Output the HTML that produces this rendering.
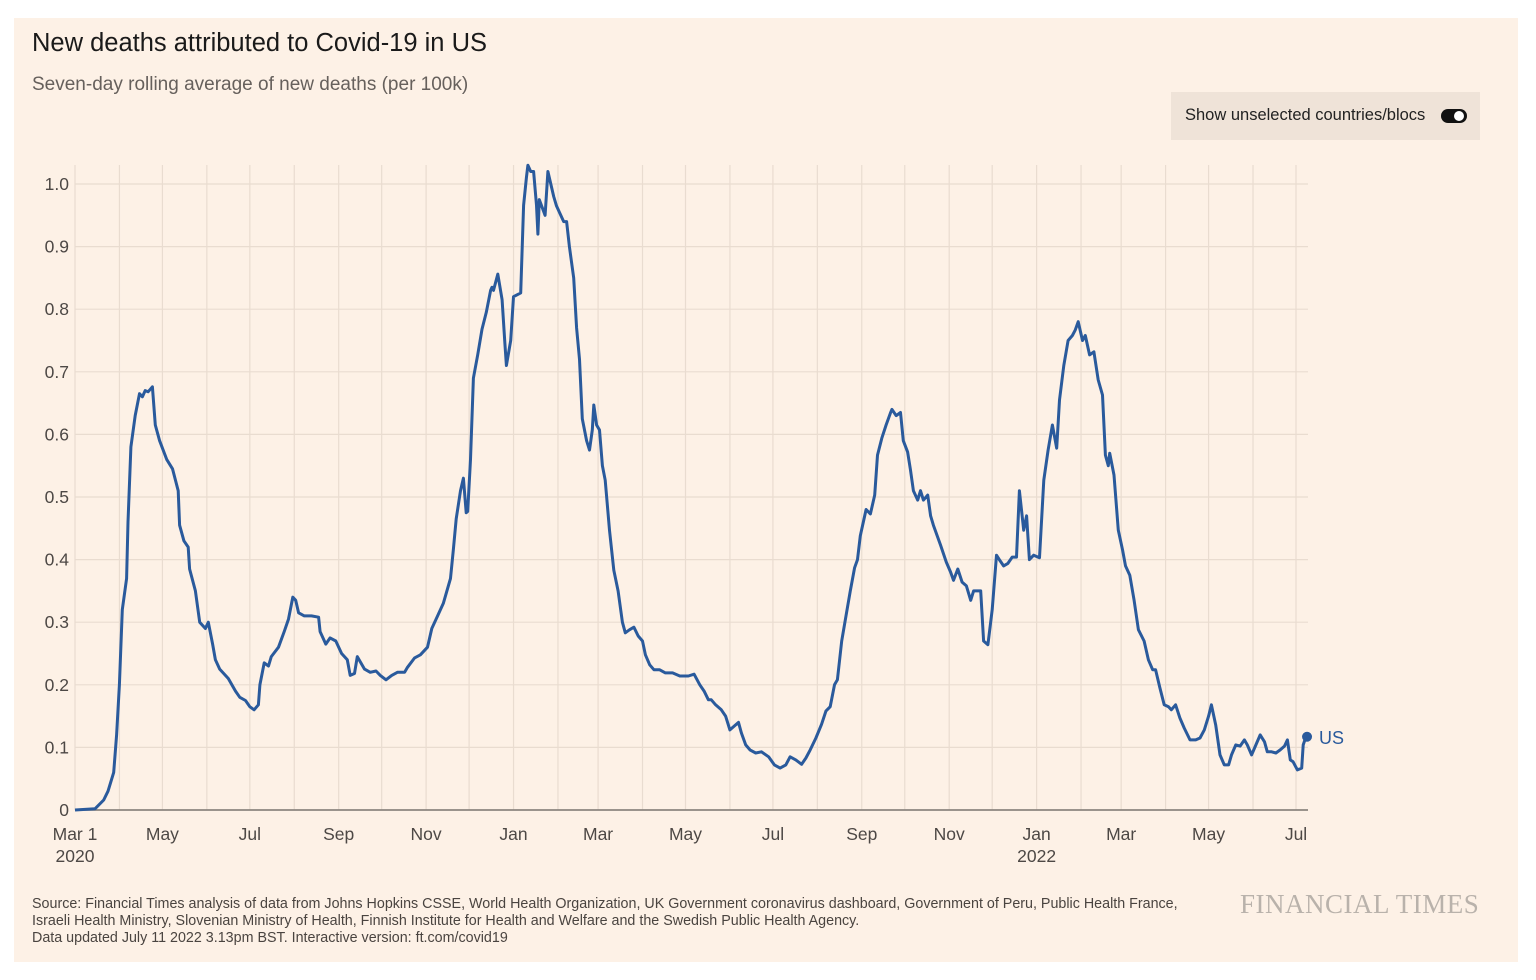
<!DOCTYPE html>
<html><head><meta charset="utf-8">
<style>
html,body{margin:0;padding:0;background:#fff;}
body{width:1536px;height:980px;position:relative;overflow:hidden;font-family:"Liberation Sans",sans-serif;}
#panel{position:absolute;left:14px;top:18px;width:1504px;height:944px;background:#fdf1e6;}
.t{position:absolute;white-space:nowrap;}
</style></head>
<body>
<div id="panel"></div>
<div class="t" style="left:32px;top:29px;font-size:25.5px;color:#1a1a1a;">New deaths attributed to Covid-19 in US</div>
<div class="t" style="left:32px;top:74px;font-size:19px;color:#66605c;">Seven-day rolling average of new deaths (per 100k)</div>
<div style="position:absolute;left:1171px;top:92px;width:309px;height:48px;background:#efe3d8;">
  <div class="t" style="left:14px;top:14px;font-size:16.5px;color:#222;">Show unselected countries/blocs</div>
  <div style="position:absolute;left:270px;top:17px;width:26px;height:14px;border-radius:8px;background:#111;">
    <div style="position:absolute;left:13px;top:2px;width:10px;height:10px;border-radius:5px;background:#fff;"></div>
  </div>
</div>
<svg id="chart" width="1536" height="980" style="position:absolute;left:0;top:0;"></svg>
<div class="t" style="left:32px;top:896px;font-size:14.3px;line-height:17px;color:#4a4440;">Source: Financial Times analysis of data from Johns Hopkins CSSE, World Health Organization, UK Government coronavirus dashboard, Government of Peru, Public Health France,<br>Israeli Health Ministry, Slovenian Ministry of Health, Finnish Institute for Health and Welfare and the Swedish Public Health Agency.<br>Data updated July 11 2022 3.13pm BST. Interactive version: ft.com/covid19</div>
<div class="t" style="left:1240px;top:889px;font-family:'Liberation Serif',serif;font-size:27px;color:#b9b2ab;letter-spacing:0.5px;">FINANCIAL TIMES</div>
<script>
const days=[0,14,20,23,27,29,31,33,36,37,39,42,45,47,49,51,54,56,59,64,68,72,73,76,79,80,84,87,91,93,96,98,101,107,112,115,119,122,125,128,129,132,135,137,142,146,149,152,154,156,160,165,170,171,175,178,182,186,190,192,195,197,202,206,210,213,217,221,225,230,232,237,241,246,249,253,257,262,264,266,269,271,273,274,276,278,281,284,287,290,291,292,295,298,300,301,304,306,311,313,315,316,318,320,322,323,324,328,330,332,334,336,338,341,343,345,348,350,352,354,357,359,361,362,364,366,368,370,373,376,379,382,384,387,390,393,396,398,401,404,408,412,417,422,428,432,436,439,442,444,447,451,454,457,460,463,465,468,471,475,479,484,488,492,496,499,503,507,510,513,517,521,524,527,530,532,535,538,541,544,546,548,552,555,558,560,563,566,569,570,573,576,578,581,583,585,588,590,592,595,597,599,604,608,611,613,616,619,622,625,627,632,634,637,640,643,645,648,651,654,657,659,662,664,666,669,673,676,679,682,685,687,690,693,696,698,700,703,705,708,711,714,717,719,721,722,725,728,731,733,736,739,742,746,749,752,754,757,760,763,765,768,771,774,778,782,785,788,791,793,796,799,802,805,807,810,813,816,818,821,824,827,830,832,835,838,841,844,846,848,850,853,856,857,859];
const deaths=[0,0.002,0.016,0.03,0.06,0.12,0.2,0.32,0.37,0.46,0.58,0.63,0.665,0.66,0.67,0.668,0.676,0.615,0.59,0.56,0.545,0.51,0.455,0.43,0.42,0.385,0.35,0.30,0.29,0.30,0.265,0.24,0.225,0.21,0.19,0.18,0.175,0.165,0.16,0.168,0.2,0.235,0.23,0.245,0.26,0.285,0.305,0.34,0.335,0.315,0.31,0.31,0.308,0.285,0.265,0.275,0.27,0.25,0.24,0.215,0.218,0.245,0.225,0.22,0.222,0.215,0.208,0.215,0.22,0.22,0.228,0.243,0.248,0.26,0.29,0.31,0.33,0.37,0.415,0.465,0.51,0.53,0.475,0.477,0.56,0.69,0.727,0.768,0.795,0.83,0.835,0.83,0.856,0.815,0.745,0.71,0.75,0.82,0.826,0.966,1.01,1.03,1.02,1.02,0.966,0.92,0.975,0.95,1.02,1.00,0.98,0.965,0.955,0.94,0.94,0.90,0.85,0.77,0.72,0.625,0.59,0.575,0.607,0.647,0.615,0.607,0.55,0.527,0.447,0.383,0.35,0.30,0.283,0.288,0.292,0.278,0.27,0.248,0.232,0.224,0.224,0.219,0.219,0.214,0.214,0.217,0.2,0.19,0.176,0.176,0.168,0.16,0.15,0.128,0.134,0.14,0.123,0.104,0.096,0.091,0.093,0.085,0.072,0.067,0.072,0.085,0.08,0.073,0.083,0.096,0.115,0.137,0.158,0.165,0.2,0.208,0.27,0.31,0.35,0.387,0.4,0.438,0.48,0.473,0.503,0.567,0.594,0.615,0.634,0.64,0.63,0.635,0.59,0.572,0.543,0.51,0.495,0.51,0.495,0.503,0.47,0.455,0.423,0.396,0.38,0.367,0.385,0.364,0.358,0.335,0.35,0.35,0.27,0.264,0.32,0.407,0.4,0.39,0.394,0.404,0.404,0.51,0.447,0.47,0.4,0.407,0.403,0.527,0.575,0.615,0.578,0.655,0.71,0.75,0.758,0.767,0.78,0.75,0.758,0.727,0.732,0.687,0.663,0.567,0.55,0.57,0.535,0.447,0.415,0.39,0.375,0.335,0.288,0.27,0.24,0.224,0.224,0.195,0.168,0.165,0.16,0.168,0.147,0.131,0.112,0.112,0.115,0.128,0.15,0.168,0.136,0.088,0.072,0.072,0.088,0.104,0.102,0.112,0.104,0.088,0.104,0.12,0.109,0.093,0.093,0.091,0.096,0.102,0.112,0.08,0.077,0.064,0.067,0.104,0.117];
const yTicks=[0,0.1,0.2,0.3,0.4,0.5,0.6,0.7,0.8,0.9,1.0];
const yTickLabels=["0","0.1","0.2","0.3","0.4","0.5","0.6","0.7","0.8","0.9","1.0"];
const monthNames=["Jan","Feb","Mar","Apr","May","Jun","Jul","Aug","Sep","Oct","Nov","Dec"];
const startDate=Date.UTC(2020,2,1);
const x0=75,pxPerDay=1.4331,y0=810,pxPerUnit=626,xRight=1308,gridTop=165;
const X=d=>x0+d*pxPerDay;
const Y=v=>y0-v*pxPerUnit;
const svg=document.getElementById('chart');
const NS='http://www.w3.org/2000/svg';
function mk(tag,attrs){const e=document.createElementNS(NS,tag);for(const k in attrs)e.setAttribute(k,attrs[k]);svg.appendChild(e);return e;}
for(let m=0;m<29;m++){
  const dt=new Date(Date.UTC(2020,2+m,1));
  const d=Math.round((dt-startDate)/86400000);
  const g=mk('line',{x1:X(d),x2:X(d),y1:gridTop,y2:y0,stroke:'#e9dcd0','stroke-width':1.2});
  
  
  if(m%2===0){
    const mo=dt.getUTCMonth();
    const lbl=(m===0)?'Mar 1':monthNames[mo];
    const t=mk('text',{x:X(d),y:840,'font-size':17.5,fill:'#4d4845','text-anchor':'middle','font-family':'Liberation Sans, sans-serif'});
    t.textContent=lbl;
    
    
    const yr=dt.getUTCFullYear();
    if(m===0||(mo===0&&yr===2022)){
      const t2=mk('text',{x:X(d),y:862,'font-size':17.5,fill:'#4d4845','text-anchor':'middle','font-family':'Liberation Sans, sans-serif'});
      t2.textContent=String(yr);
      
      
    }
  }
}
yTicks.forEach((v,i)=>{
  const g=mk('line',{x1:x0,x2:xRight,y1:Y(v),y2:Y(v),stroke:i===0?'#8c8680':'#e9dcd0','stroke-width':i===0?1.6:1.2});
  
  
  const t=mk('text',{x:69,y:Y(v)+6,'font-size':17.5,fill:'#4d4845','text-anchor':'end','font-family':'Liberation Sans, sans-serif'});
  t.textContent=yTickLabels[i];
  
  
});
const ax=mk('line',{x1:x0,x2:xRight,y1:Y(0),y2:Y(0),stroke:'#8c8680','stroke-width':1.6});


const pts=days.map((d,i)=>X(d).toFixed(1)+','+Y(deaths[i]).toFixed(1)).join(' ');
const line=mk('polyline',{points:pts,fill:'none',stroke:'#2a5a9c','stroke-width':3,'stroke-linejoin':'round'});


const li=days.length-1;
const dot=mk('circle',{cx:X(days[li])+1,cy:Y(deaths[li]),r:5,fill:'#2a5a9c'});


const lab=mk('text',{x:X(days[li])+13,y:Y(deaths[li])+7,'font-size':18,fill:'#2a5a9c','font-family':'Liberation Sans, sans-serif'});
lab.textContent='US';


</script>
</body></html>
